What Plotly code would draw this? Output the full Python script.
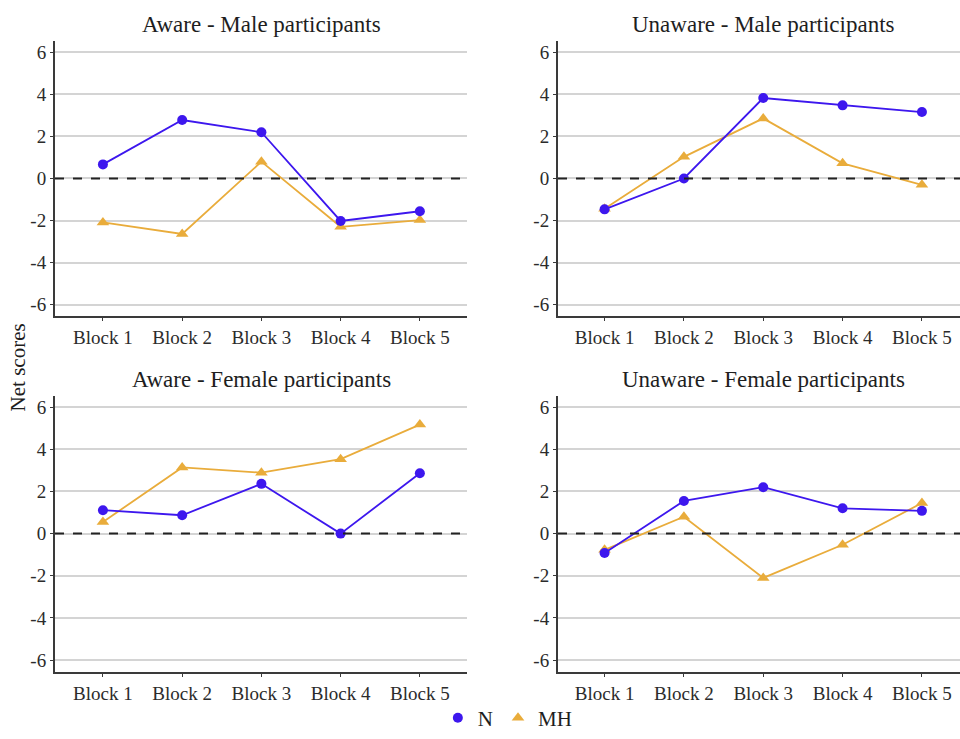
import plotly.graph_objects as go

blocks = ["Block 1", "Block 2", "Block 3", "Block 4", "Block 5"]
panel_titles = [
    "Aware - Male participants",
    "Unaware - Male participants",
    "Aware - Female participants",
    "Unaware - Female participants",
]

# Net scores per block, group N
n_aware_male = [0.67, 2.78, 2.2, -2.02, -1.56]
n_unaware_male = [-1.47, 0.0, 3.83, 3.48, 3.16]
n_aware_female = [1.11, 0.87, 2.36, 0.0, 2.86]
n_unaware_female = [-0.92, 1.55, 2.2, 1.2, 1.08]

# Net scores per block, group MH
mh_aware_male = [-2.09, -2.64, 0.8, -2.3, -1.98]
mh_unaware_male = [-1.44, 1.03, 2.86, 0.72, -0.3]
mh_aware_female = [0.55, 3.14, 2.89, 3.53, 5.17]
mh_unaware_female = [-0.77, 0.8, -2.1, -0.53, 1.45]

y_ticks = [-6, -4, -2, 0, 2, 4, 6]
y_tick_labels = ["-6", "-4", "-2", "0", "2", "4", "6"]

N_COLOR = "#3D17EE"
MH_COLOR = "#E9AC3B"
FONT = "Liberation Serif, Times New Roman, serif"
TEXT = "#1e1e1e"
W, H = 960, 739

n_series = [n_aware_male, n_unaware_male, n_aware_female, n_unaware_female]
mh_series = [mh_aware_male, mh_unaware_male, mh_aware_female, mh_unaware_female]

# panel geometry (pixels): left, right, top, bottom, x-range
panels = [
    (55, 467, 42, 322, [0.395, 5.595]),
    (558, 960, 42, 322, [0.413, 5.48]),
    (55, 467, 403, 684, [0.395, 5.595]),
    (558, 960, 403, 684, [0.413, 5.48]),
]
x_pos = list(range(1, len(blocks) + 1))

fig = go.Figure()
layout = {}
annotations = []
shapes = []

for i, (l, r, t, b, xr) in enumerate(panels):
    k = "" if i == 0 else str(i + 1)
    xa, ya = "x" + k, "y" + k
    fig.add_trace(go.Scatter(
        x=x_pos, y=mh_series[i], mode="lines+markers", name="MH",
        line=dict(color=MH_COLOR, width=1.8),
        marker=dict(symbol="triangle-up", size=11, color=MH_COLOR),
        xaxis=xa, yaxis=ya, showlegend=False,
    ))
    fig.add_trace(go.Scatter(
        x=x_pos, y=n_series[i], mode="lines+markers", name="N",
        line=dict(color=N_COLOR, width=1.8),
        marker=dict(symbol="circle", size=10, color=N_COLOR),
        xaxis=xa, yaxis=ya, showlegend=False,
    ))
    layout["xaxis" + k] = dict(
        domain=[l / W, r / W], range=xr, anchor=ya,
        tickvals=x_pos, ticktext=blocks, showgrid=False, zeroline=False,
        showline=True, linecolor="#3a3a3a", linewidth=2,
        ticks="outside", ticklen=3, tickcolor="#3a3a3a",
        tickfont=dict(family=FONT, size=19, color="#2b2b2b"),
    )
    layout["yaxis" + k] = dict(
        domain=[1 - b / H, 1 - t / H], range=[-6.56, 6.53], anchor=xa,
        tickvals=y_ticks, ticktext=y_tick_labels,
        showgrid=True, gridcolor="#d4d4d4", gridwidth=1.5,
        zeroline=False, showline=True, linecolor="#3a3a3a", linewidth=2,
        ticks="outside", ticklen=3, tickcolor="#3a3a3a",
        tickfont=dict(family=FONT, size=19, color="#2b2b2b"),
    )
    shapes.append(dict(
        type="line", xref=xa + " domain", yref=ya, x0=0, x1=1, y0=0, y1=0,
        line=dict(color="#222222", width=2, dash="dash"), layer="above",
    ))
    annotations.append(dict(
        text=panel_titles[i], xref="paper", yref="paper",
        x=((l + (r if i % 2 == 0 else 968)) / 2) / W, y=1 - (t - 17) / H,
        xanchor="center", yanchor="middle", showarrow=False,
        font=dict(family=FONT, size=23, color=TEXT),
    ))

# legend entries: markers only
fig.add_trace(go.Scatter(
    x=[None], y=[None], mode="markers", name="N",
    marker=dict(symbol="circle", size=10, color=N_COLOR),
))
fig.add_trace(go.Scatter(
    x=[None], y=[None], mode="markers", name="MH",
    marker=dict(symbol="triangle-up", size=11, color=MH_COLOR),
))

annotations.append(dict(
    text="Net scores", xref="paper", yref="paper", x=18 / W, y=1 - 374 / H,
    textangle=-90, xanchor="center", yanchor="middle", showarrow=False,
    font=dict(family=FONT, size=21, color=TEXT),
))

fig.update_layout(
    **layout,
    width=W, height=H,
    margin=dict(l=0, r=0, t=0, b=0),
    plot_bgcolor="white", paper_bgcolor="white",
    annotations=annotations, shapes=shapes,
    legend=dict(
        orientation="h", x=0.529, y=1 - 731 / H, xanchor="center", yanchor="middle",
        font=dict(family=FONT, size=21, color=TEXT),
        itemwidth=30, tracegroupgap=0, bgcolor="rgba(0,0,0,0)",
    ),
)

fig.write_html("out.html")
